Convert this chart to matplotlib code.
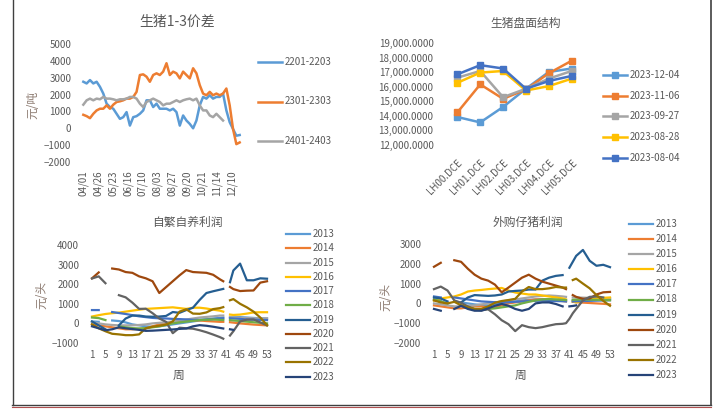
import numpy as np
import matplotlib
matplotlib.use("Agg")
import matplotlib.pyplot as plt
from matplotlib.lines import Line2D
from matplotlib.ticker import FuncFormatter

plt.rcParams["font.family"] = ["Noto Sans CJK SC", "DejaVu Sans"]

W, H = 726, 417
nan = np.nan
TXT = "#595959"
AXT = "#8c7a70"

# ---------------------------------------------------------------- data ------
# 生猪1-3价差, sampled every ~4 trading days from 04/01
DATE_TICKS = ["04/01", "04/26", "05/23", "06/16", "07/10", "08/03",
              "08/27", "09/20", "10/21", "11/14", "12/10"]
SPREAD_NAMES = ["2201-2203", "2301-2303", "2401-2403"]
SPREAD_2201 = [2760, 2660, 2860, 2660, 2760, 2460, 2060, 1460, 1260, 1160,
               860, 560, 660, 960, 160, 660, 720, 860, 1060, 1660,
               1660, 1260, 1460, 1160, 1160, 1160, 1060, 1160, 960, 160,
               760, 460, 260, 0, 460, 1360, 1860, 1760, 1960, 1760,
               1860, 1860, 2060, 1060, 360, -40, -440, -400]
SPREAD_2301 = [800, 720, 600, 860, 1060, 1160, 1160, 1360, 1160, 1400,
               1560, 1600, 1660, 1760, 1760, 1860, 2160, 3160, 3200, 3060,
               2760, 3160, 3260, 3160, 3360, 3860, 3160, 3360, 3260, 2960,
               3360, 3160, 2960, 3560, 3260, 2560, 2060, 1960, 2160, 1960,
               2060, 1960, 2060, 2360, 1360, -40, -940, -840]
SPREAD_2401 = [1400, 1660, 1760, 1660, 1760, 1720, 1860, 1760, 1760, 1720,
               1660, 1720, 1720, 1760, 1860, 1860, 1760, 1460, 1260, 1560,
               1660, 1760, 1660, 1560, 1360, 1460, 1460, 1560, 1660, 1560,
               1660, 1720, 1760, 1660, 1760, 1360, 1060, 1060, 760, 660,
               860, 660, 460]
SPREAD_COLORS = ["#5B9BD5", "#ED7D31", "#A5A5A5"]

# 生猪盘面结构
CONTRACTS = ["LH00.DCE", "LH01.DCE", "LH02.DCE", "LH03.DCE", "LH04.DCE", "LH05.DCE"]
CURVE_DATES = ["2023-12-04", "2023-11-06", "2023-09-27", "2023-08-28", "2023-08-04"]
CURVE_1204 = [13920, 13550, 14610, 15860, 17010, 17250]
CURVE_1106 = [14240, 16160, 15170, 15810, 16920, 17780]
CURVE_0927 = [16620, 17080, 15280, 15860, 16550, 17080]
CURVE_0828 = [16270, 16970, 17080, 15740, 16040, 16550]
CURVE_0804 = [16850, 17480, 17250, 15860, 16390, 16740]
CURVE_COLORS = ["#5B9BD5", "#ED7D31", "#A5A5A5", "#FFC000", "#4472C4"]

# weekly profits (yuan/head); odd weeks plus weeks 40-42
WEEKS = list(range(1, 40, 2)) + [40, 41, 42] + list(range(43, 54, 2))
WEEK_TICKS = list(range(1, 54, 4))
YEARS = ["2013", "2014", "2015", "2016", "2017", "2018",
         "2019", "2020", "2021", "2022", "2023"]
YEAR_COLORS = ["#5B9BD5", "#ED7D31", "#A5A5A5", "#FFC000", "#4472C4", "#70AD47",
               "#255E91", "#9E480E", "#636363", "#997300", "#264478"]

# 自繁自养利润
SELF_2013 = [100, 80, nan, 150, 120, 50, -50, -100, -150, -170, -150, -100, -50, 0, 50, 100, 150, 200, 250, 280,
             300, nan, 300, 310, 320, 300, 280, 260, 250]
SELF_2014 = [-50, -100, -150, -200, -250, -300, -300, -280, -250, -150, -50, 0, 50, 100, 150, 150, 150, 120, 100, 80,
             80, nan, 60, 40, 0, -30, -60, -80, -100]
SELF_2015 = [50, 0, -50, -80, -100, -100, -100, -80, -50, 0, 30, 60, 100, 150, 200, 250, 300, 330, 360, 400,
             400, nan, 330, 300, 280, 270, 260, 260, 260]
SELF_2016 = [350, 420, 480, 520, 550, 600, 650, 700, 740, 760, 780, 800, 820, 780, 740, 800, 800, 760, 700, 650,
             600, nan, 450, 430, 450, 500, 560, 570, 570]
SELF_2017 = [680, 680, nan, 580, 530, 480, 420, 360, 320, 280, 260, 250, 230, 220, 200, 180, 180, 200, 220, 250,
             260, nan, 260, 250, 230, 200, 190, 180, 170]
SELF_2018 = [300, 270, 170, nan, -150, -200, -240, -260, -240, -200, -150, -80, 0, 50, 90, 130, 170, 190, 200, 180,
             170, nan, 170, 150, 120, 90, 60, 30, 0]
SELF_2019 = [100, -100, -300, nan, -100, 250, 400, 400, 350, 340, 350, 380, 580, 540, 680, 800, 1200, 1550, 1640, 1720,
             1760, nan, 2100, 2700, 3050, 2200, 2200, 2300, 2280]
SELF_2020 = [2300, 2600, nan, 2800, 2750, 2620, 2580, 2400, 2300, 2150, 1550, 1850, 2150, 2450, 2720, 2620, 2600, 2580, 2480, 2250,
             2150, nan, 1860, 1750, 1650, 1670, 1680, 2080, 2150]
SELF_2021 = [2290, 2400, 2050, nan, 1440, 1330, 1060, 740, 750, 520, 250, 80, -500, -220, -250, -270, -350, -450, -570, -700,
             -780, nan, -620, -400, 100, 190, 200, 50, -100]
SELF_2022 = [-50, -250, -400, -530, -560, -600, -600, -560, -250, -170, -120, -60, 100, 600, 720, 500, 490, 560, 730, 780,
             830, nan, 1180, 1240, 1000, 820, 600, 300, -90]
SELF_2023 = [-150, -250, -350, -300, -200, -250, -290, -330, -380, -370, -350, -330, -310, -280, -260, -150, -90, -120, -170, -230,
             -260, nan, -300, -330, nan, nan, nan, nan, nan]

# 外购仔猪利润
BUY_2013 = [200, 150, nan, 100, 50, 0, -50, -80, -100, -50, 0, 50, 100, 150, 180, 200, 220, 200, 180, 150,
            150, nan, 150, 180, 200, 220, 230, 240, 250]
BUY_2014 = [-100, -150, -200, -250, -250, -200, -150, -150, -200, -200, -100, 0, 50, 100, 150, 200, 200, 180, 150, 120,
            100, nan, 80, 60, 40, 20, 0, -20, -50]
BUY_2015 = [0, -50, -100, -150, -150, -120, -100, -50, 0, 50, 100, 150, 200, 250, 300, 350, 380, 400, 380, 350,
            330, nan, 300, 300, 290, 280, 270, 270, 260]
BUY_2016 = [150, 250, 300, 350, 450, 600, 650, 680, 720, 750, 780, 650, 550, 500, 450, 450, 400, 350, 300, 250,
            200, nan, 100, 50, 150, 200, 250, 280, 300]
BUY_2017 = [350, 300, nan, 300, 250, 200, 150, 100, 80, 60, 50, 60, 80, 100, 120, 130, 140, 130, 120, 110,
            100, nan, 100, 110, 120, 130, 140, 150, 160]
BUY_2018 = [200, 100, 0, nan, -100, -200, -280, -300, -280, -250, -200, -150, -100, 0, 80, 150, 200, 220, 200, 180,
            170, nan, 180, 190, 200, 190, 180, 170, 160]
BUY_2019 = [300, 250, 100, nan, 50, 300, 420, 400, 380, 400, 450, 600, 630, 650, 700, 700, 1150, 1300, 1390, 1430,
            nan, 1800, 2100, 2400, 2700, 2150, 1900, 1950, 1830]
BUY_2020 = [1850, 2050, nan, 2180, 2100, 1750, 1450, 1250, 1150, 950, 560, 800, 1050, 1300, 1450, 1250, 1100, 1000, 900, 800,
            720, nan, 420, 330, 230, 250, 450, 560, 580]
BUY_2021 = [720, 850, 650, 150, 30, -150, -300, -350, -300, -550, -850, -1050, -1400, -1100, -1200, -1250, -1200, -1120, -1050, -1030,
            -1000, -780, -500, -280, 150, 330, 350, 300, nan]
BUY_2022 = [150, 50, 0, 80, -100, -200, -280, -280, -150, 30, 120, 170, 230, 600, 830, 720, 720, 760, 830, 800,
            800, nan, 1180, 1250, 1000, 760, 420, 130, -120]
BUY_2023 = [-280, -370, nan, -280, -120, -280, -370, -370, -250, -120, -30, -120, -280, -370, -280, 0, 50, 50, -30, -150,
            nan, -150, -130, -100, nan, nan, nan, nan, nan]

SELF_ALL = [SELF_2013, SELF_2014, SELF_2015, SELF_2016, SELF_2017, SELF_2018,
            SELF_2019, SELF_2020, SELF_2021, SELF_2022, SELF_2023]
BUY_ALL = [BUY_2013, BUY_2014, BUY_2015, BUY_2016, BUY_2017, BUY_2018,
           BUY_2019, BUY_2020, BUY_2021, BUY_2022, BUY_2023]


# ------------------------------------------------------------- helpers ------
def px_axes(fig, x0, x1, y0, y1):
    """Axes from pixel box (top-left origin)."""
    return fig.add_axes([x0 / W, 1 - y1 / H, (x1 - x0) / W, (y1 - y0) / H])


def clean(ax):
    for s in ax.spines.values():
        s.set_visible(False)
    ax.tick_params(length=0, colors=TXT, labelsize=7)


def px_legend(fig, labels, colors, x0, y_first, dy, lw=1.8, marker=None):
    for i, (lab, c) in enumerate(zip(labels, colors)):
        y = 1 - (y_first + i * dy) / H
        xs = [x0 / W, (x0 + 12) / W, (x0 + 24) / W]
        fig.add_artist(Line2D(xs, [y, y, y], color=c, lw=lw, marker=marker,
                              markevery=[1], markersize=5,
                              transform=fig.transFigure))
        fig.text((x0 + 27) / W, y, lab, va="center", ha="left",
                 fontsize=7, color=TXT)


def fig_title(fig, x, y, text, size=8.5):
    fig.text(x / W, 1 - y / H, text, ha="center", va="center",
             fontsize=size, color=TXT)


fig = plt.figure(figsize=(W / 100, H / 100), dpi=100)

# ----------------------------------------------------- 生猪1-3价差 ----------
ax1 = px_axes(fig, 81, 244, 44, 162)
clean(ax1)
for vals, c in zip([SPREAD_2201, SPREAD_2301, SPREAD_2401], SPREAD_COLORS):
    ax1.plot(np.arange(len(vals)), vals, color=c, lw=1.8)
ax1.set_xlim(-0.7, 48.3)
ax1.set_ylim(-2000, 5000)
ax1.set_yticks(range(-2000, 5001, 1000))
ax1.set_xticks(np.arange(len(DATE_TICKS)) * 4.46)
ax1.set_xticklabels(DATE_TICKS, rotation=90)
ax1.tick_params(axis="y", pad=7)
ax1.tick_params(axis="x", pad=6)
ax1.set_ylabel("元/吨", fontsize=8.5, color=AXT)
ax1.yaxis.set_label_coords(-0.258, 0.48)
fig_title(fig, 177, 22, "生猪1-3价差", size=10)
px_legend(fig, SPREAD_NAMES, SPREAD_COLORS, 258, 62, 39.5)

# ----------------------------------------------------- 生猪盘面结构 ---------
ax2 = px_axes(fig, 446, 583, 43, 145)
clean(ax2)
for vals, c in zip([CURVE_1204, CURVE_1106, CURVE_0927, CURVE_0828, CURVE_0804],
                   CURVE_COLORS):
    ax2.plot(np.arange(len(CONTRACTS)), vals, color=c, lw=1.8,
             marker="s", markersize=5)
ax2.set_xlim(-0.5, 5.5)
ax2.set_ylim(12000, 19000)
ax2.set_yticks(range(12000, 19001, 1000))
ax2.yaxis.set_major_formatter(FuncFormatter(lambda v, p: f"{v:,.4f}"))
ax2.set_xticks(np.arange(len(CONTRACTS)))
ax2.set_xticklabels(CONTRACTS, rotation=45, ha="right", rotation_mode="anchor")
ax2.tick_params(axis="y", pad=9)
ax2.tick_params(axis="x", pad=9)
fig_title(fig, 526, 23, "生猪盘面结构")
px_legend(fig, CURVE_DATES, CURVE_COLORS, 603, 75, 20.7, marker="s")

# ----------------------------------------------------- weekly profits -------
def weekly(ax, series, ylo, yhi):
    clean(ax)
    for vals, c in zip(series, YEAR_COLORS):
        ax.plot(WEEKS, vals, color=c, lw=1.6)
    ax.set_xlim(0.5, 53.5)
    ax.set_ylim(ylo, yhi)
    ax.set_yticks(range(ylo, yhi + 1, 1000))
    ax.set_xticks(WEEK_TICKS)
    ax.tick_params(axis="x", pad=5)
    ax.tick_params(axis="y", pad=8)
    ax.set_ylabel("元/头", fontsize=8.5, color=AXT)
    ax.set_xlabel("周", fontsize=8.5, color=TXT)


ax3 = px_axes(fig, 90.3, 268.7, 245, 343)
weekly(ax3, SELF_ALL, -1000, 4000)
ax3.yaxis.set_label_coords(-0.232, 0.49)
ax3.xaxis.set_label_coords(0.497, -0.265)
fig_title(fig, 187, 222, "自繁自养利润")
px_legend(fig, YEARS, YEAR_COLORS, 286, 234, 14.27, lw=1.6)

ax4 = px_axes(fig, 432.3, 611.7, 244, 343)
weekly(ax4, BUY_ALL, -2000, 3000)
ax4.yaxis.set_label_coords(-0.225, 0.465)
ax4.xaxis.set_label_coords(0.494, -0.263)
fig_title(fig, 528, 222, "外购仔猪利润")
px_legend(fig, YEARS, YEAR_COLORS, 629, 224, 15.1, lw=1.6)

# ----------------------------------------------------- frame ----------------
frame = "#404040"
fig.add_artist(Line2D([12.5 / W, 12.5 / W], [1, 1 - 405 / H], color=frame,
                      lw=1, transform=fig.transFigure))
fig.add_artist(Line2D([710.5 / W, 710.5 / W], [1, 1 - 405 / H], color=frame,
                      lw=1.2, transform=fig.transFigure))
fig.add_artist(Line2D([12 / W, 711 / W], [1 - 405 / H, 1 - 405 / H], color=frame,
                      lw=1, transform=fig.transFigure))
fig.add_artist(Line2D([12 / W, 711 / W], [1 - 407 / H, 1 - 407 / H], color="#b05050",
                      lw=0.8, transform=fig.transFigure))

fig.savefig("out.png", dpi=100)
